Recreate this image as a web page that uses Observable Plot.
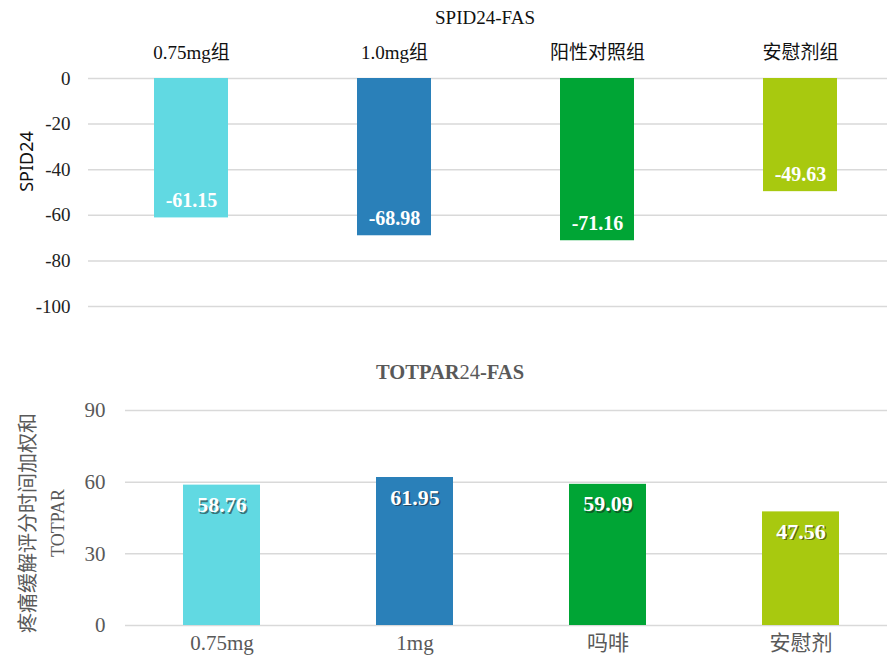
<!DOCTYPE html>
<html>
<head>
<meta charset="utf-8">
<script src="https://cdn.jsdelivr.net/npm/d3@7"></script>
<script src="https://cdn.jsdelivr.net/npm/@observablehq/plot@0.6"></script>
<style>
  html, body { margin: 0; padding: 0; background: #fff; }
  #wrap { position: relative; width: 887px; height: 660px; overflow: hidden; }
  .panel { position: absolute; left: 0; }
  .title {
    position: absolute; transform: translate(-50%, -50%);
    font-family: "Liberation Serif", "Noto Sans CJK SC", serif; white-space: nowrap;
  }
  #t1 { left: 485px; top: 18px; font-size: 19px; color: #111; }
  #t2 { left: 450px; top: 372px; font-size: 20.5px; color: #595959; }
  #t2 b { font-weight: bold; }
</style>
</head>
<body>
<div id="wrap">
  <div id="c1" class="panel" style="top:0"></div>
  <div id="c2" class="panel" style="top:340px"></div>
  <div id="t1" class="title">SPID24-FAS</div>
  <div id="t2" class="title"><b>TOTPAR</b>24<b>-FAS</b></div>
</div>
<script>
// SPID24 panel
const spidGroups = ["0.75mg组", "1.0mg组", "阳性对照组", "安慰剂组"];
const spidValues = [-61.15, -68.98, -71.16, -49.63];
const spidTicks = [0, -20, -40, -60, -80, -100];

// TOTPAR24 panel
const totparGroups = ["0.75mg", "1mg", "吗啡", "安慰剂"];
const totparValues = [58.76, 61.95, 59.09, 47.56];
const totparTicks = [0, 30, 60, 90];

const barColors = ["#61D9E2", "#2A80B9", "#00A535", "#A8C90F"];

const serif = "'Liberation Serif', 'Noto Sans CJK SC', serif";
const sans = "'Noto Sans', 'Noto Sans CJK SC', sans-serif";

const spidData = spidGroups.map((g, i) => ({group: g, value: spidValues[i]}));
const totparData = totparGroups.map((g, i) => ({group: g, value: totparValues[i]}));

const fmt = v => v.toFixed(2);

const spidChart = Plot.plot({
  width: 887,
  height: 340,
  marginTop: 78,
  marginBottom: 34,
  marginLeft: 88,
  marginRight: 0,
  style: {fontFamily: serif, fontSize: "19px", background: "transparent"},
  x: {domain: spidGroups, range: [88, 902], paddingInner: 0.636, paddingOuter: 0.318, axis: null},
  y: {domain: [-100, 0], axis: null},
  color: {domain: spidGroups, range: barColors},
  marks: [
    Plot.ruleY(spidTicks, {stroke: "#D9D9D9", strokeWidth: 1.5}),
    Plot.barY(spidData, {x: "group", y: "value", fill: "group"}),
    // y tick labels
    Plot.text(spidTicks, {
      y: d => d, text: d => String(d), frameAnchor: "left", textAnchor: "end",
      lineAnchor: "middle", dx: -18, fill: "#222", fontSize: 19, fontFamily: serif
    }),
    // group names above the bars
    Plot.text(spidGroups, {
      x: d => d, frameAnchor: "top", dy: -26, lineAnchor: "middle",
      fill: "#111", fontSize: 19, fontFamily: serif
    }),
    Plot.text(spidData, {
      x: "group", y: "value", text: d => fmt(d.value), dy: -17, lineAnchor: "middle",
      fill: "#fff", fontWeight: "bold", fontSize: 20, fontFamily: serif
    }),
    Plot.text(["SPID24"], {
      frameAnchor: "left", rotate: -90, textAnchor: "middle", lineAnchor: "middle",
      dx: -61, dy: -31, fill: "#111", fontSize: 18, fontFamily: sans
    })
  ]
});
document.getElementById("c1").appendChild(spidChart);

const totparChart = Plot.plot({
  width: 887,
  height: 320,
  marginTop: 70,
  marginBottom: 35,
  marginLeft: 125,
  marginRight: 0,
  style: {fontFamily: serif, fontSize: "21px", background: "transparent"},
  x: {domain: totparGroups, range: [125, 897], paddingInner: 0.6, paddingOuter: 0.3, axis: null},
  y: {domain: [0, 90], axis: null},
  color: {domain: totparGroups, range: barColors},
  marks: [
    Plot.ruleY(totparTicks, {stroke: "#D9D9D9", strokeWidth: 1.5}),
    Plot.barY(totparData, {x: "group", y: "value", fill: "group"}),
    // y tick labels
    Plot.text(totparTicks, {
      y: d => d, text: d => String(d), frameAnchor: "left", textAnchor: "end",
      lineAnchor: "middle", dx: -20, fill: "#595959", fontSize: 21, fontFamily: serif
    }),
    // group names below the bars
    Plot.text(totparGroups, {
      x: d => d, frameAnchor: "bottom", dy: 18, lineAnchor: "middle",
      fill: "#595959", fontSize: 21, fontFamily: serif
    }),
    // soft drop shadow under the value labels
    Plot.text(totparData, {
      x: "group", y: "value", text: d => fmt(d.value), dx: 1.5, dy: 21.5, lineAnchor: "middle",
      fill: "#1a1a1a", fillOpacity: 0.55, fontWeight: "bold", fontSize: 22, fontFamily: serif
    }),
    Plot.text(totparData, {
      x: "group", y: "value", text: d => fmt(d.value), dy: 20, lineAnchor: "middle",
      fill: "#fff", fontWeight: "bold", fontSize: 22, fontFamily: serif
    }),
    Plot.text(["疼痛缓解评分时间加权和"], {
      frameAnchor: "left", rotate: -90, textAnchor: "middle", lineAnchor: "middle",
      dx: -97, dy: 5, fill: "#595959", fontSize: 20, fontFamily: sans
    }),
    Plot.text(["TOTPAR"], {
      frameAnchor: "left", rotate: -90, textAnchor: "middle", lineAnchor: "middle",
      dx: -67, dy: 5, fill: "#595959", fontSize: 18, fontFamily: serif
    })
  ]
});
document.getElementById("c2").appendChild(totparChart);
</script>
</body>
</html>
